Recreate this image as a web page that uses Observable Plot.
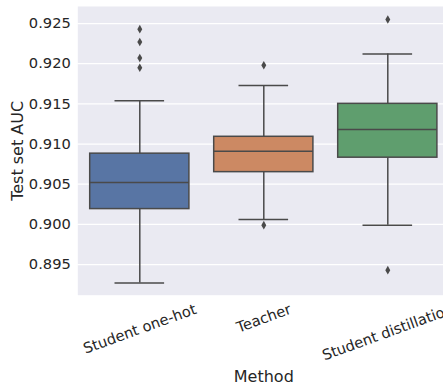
<!DOCTYPE html>
<html>
<head>
<meta charset="utf-8">
<script src="https://cdn.jsdelivr.net/npm/d3@7"></script>
<script src="https://cdn.jsdelivr.net/npm/@observablehq/plot@0.6"></script>
<style>
  html, body { margin: 0; padding: 0; background: #ffffff; overflow: hidden; }
  #chart svg { overflow: hidden; display: block; }
</style>
</head>
<body>
<div id="chart"></div>
<script>
const methods = ["Student one-hot", "Teacher", "Student distillation"];
const colors = ["#5875a4", "#cc8963", "#5f9e6e"];
const q1 = [0.9019, 0.9065, 0.9083];
const median = [0.9052, 0.9091, 0.9118];
const q3 = [0.9088, 0.9109, 0.9150];
const whiskerLow = [0.8927, 0.9006, 0.8999];
const whiskerHigh = [0.9154, 0.9173, 0.9212];
const outlierMethod = [0, 0, 0, 0, 1, 1, 2, 2];
const outlierValue = [0.9243, 0.9227, 0.9207, 0.9195, 0.9198, 0.8999, 0.9255, 0.8943];
const yTicks = [0.895, 0.900, 0.905, 0.910, 0.915, 0.920, 0.925];

const boxes = methods.map((m, i) => ({
  i, m, color: colors[i], q1: q1[i], med: median[i], q3: q3[i], lo: whiskerLow[i], hi: whiskerHigh[i]
}));
const outliers = outlierValue.map((v, k) => ({i: outlierMethod[k], v}));

const line = "#4a4a4a";
const tickFont = 14.67;
const font = "DejaVu Sans, sans-serif";

// matplotlib-style rotated labels: bbox centered on tick, bbox top at pad below axis
const ctx = document.createElement("canvas").getContext("2d");
ctx.font = `${tickFont}px DejaVu Sans`;
const theta = 20 * Math.PI / 180;
const lh = tickFont * 1.17;
const labelMarks = methods.map((m, i) => {
  const w = ctx.measureText(m).width;
  const dy = 5.5 + (w * Math.sin(theta) + lh * Math.cos(theta)) / 2;
  return Plot.text([{i, m}], {
    x: "i", text: "m", frameAnchor: "bottom", dy,
    rotate: -20, textAnchor: "middle", lineAnchor: "middle",
    fontSize: tickFont, fill: "#262626"
  });
});

const chart = Plot.plot({
  width: 443,
  height: 385,
  marginLeft: 77.3,
  marginRight: 0,
  marginTop: 6,
  marginBottom: 90.3,
  style: {fontFamily: font, background: "#ffffff"},
  x: {domain: [-0.5, 2.5], range: [77.3, 449.3], axis: null},
  y: {domain: [0.89118, 0.92712], ticks: yTicks, tickFormat: d3.format(".3f"), label: null},
  marks: [
    Plot.frame({fill: "#eaeaf2", stroke: null}),
    Plot.gridY(yTicks, {stroke: "#ffffff", strokeOpacity: 1, strokeWidth: 1.25}),
    Plot.axisY(yTicks, {
      tickSize: 0, tickPadding: 7, fontSize: tickFont, fill: "#262626",
      tickFormat: d3.format(".3f"), label: null
    }),
    Plot.ruleX(boxes, {x: "i", y1: "lo", y2: "q1", stroke: line, strokeWidth: 1.5}),
    Plot.ruleX(boxes, {x: "i", y1: "q3", y2: "hi", stroke: line, strokeWidth: 1.5}),
    Plot.ruleY(boxes, {y: "lo", x1: d => d.i - 0.2, x2: d => d.i + 0.2, stroke: line, strokeWidth: 1.5}),
    Plot.ruleY(boxes, {y: "hi", x1: d => d.i - 0.2, x2: d => d.i + 0.2, stroke: line, strokeWidth: 1.5}),
    Plot.rect(boxes, {x1: d => d.i - 0.4, x2: d => d.i + 0.4, y1: "q1", y2: "q3", fill: "color", stroke: line, strokeWidth: 1.5}),
    Plot.ruleY(boxes, {y: "med", x1: d => d.i - 0.4, x2: d => d.i + 0.4, stroke: line, strokeWidth: 1.5}),
    Plot.dot(outliers, {x: "i", y: "v", symbol: "diamond", r: 2.6, fill: line, stroke: null}),
    ...labelMarks,
    Plot.text(["Method"], {
      frameAnchor: "bottom", x: 1, dy: 82, text: d => d,
      fontSize: 16, fill: "#262626", lineAnchor: "middle"
    }),
    Plot.text(["Test set AUC"], {
      frameAnchor: "left", dx: -59.5, text: d => d, rotate: -90,
      fontSize: 16, fill: "#262626", lineAnchor: "middle", textAnchor: "middle"
    })
  ]
});
document.getElementById("chart").appendChild(chart);
</script>
</body>
</html>
